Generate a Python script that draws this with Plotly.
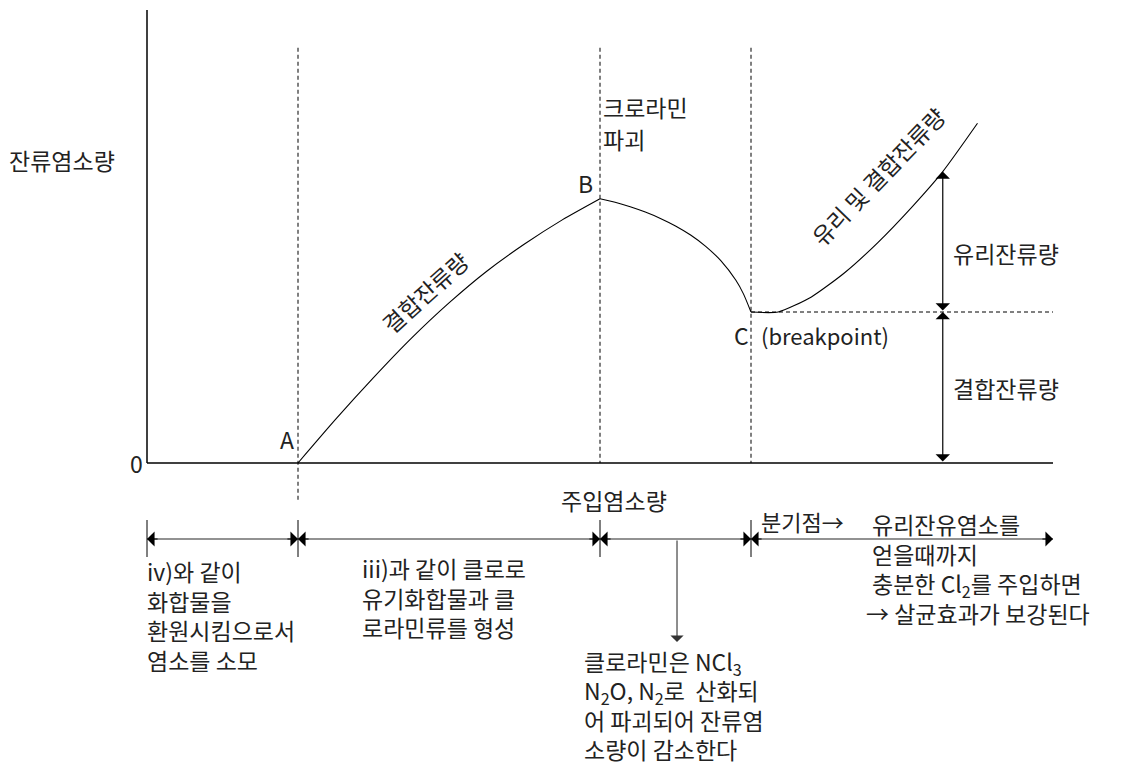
import plotly.graph_objects as go

# 주입염소량(x) vs 잔류염소량(y); one unit = one stage width on the drawing
ab_x = [1.0, 1.25, 1.5, 1.75, 2.0, 2.25, 2.5, 2.75, 3.0]
ab_y = [0.0, 0.29, 0.565, 0.825, 1.06, 1.27, 1.45, 1.61, 1.75]
bc_x = [3.0, 3.1, 3.2, 3.3, 3.4, 3.5, 3.6, 3.7, 3.8, 3.9, 3.95, 4.0]
bc_y = [1.75, 1.727, 1.697, 1.662, 1.62, 1.57, 1.51, 1.435, 1.34, 1.21, 1.12, 1.0]
cd_x = [4.0, 4.18, 4.4, 4.62, 4.84, 5.07, 5.27, 5.5]
cd_y = [1.0, 1.0, 1.10, 1.26, 1.46, 1.70, 1.93, 2.25]

stage_x = [0, 1, 3, 4, 6]          # 0, A, B, C, end of dose axis
breakpoint_y = 1.0
free_top_y = 1.93
arrow_x = 5.27
x_max, y_max, guide_top = 6.0, 3.0, 2.75

y_title = "잔류염소량"
x_title = "주입염소량"
bound_label = "결합잔류량"
total_label = "유리 및 결합잔류량"
free_label = "유리잔류량"
destroy_label = ["크로라민", "파괴"]
stage1_text = ["iv)와 같이", "화합물을", "환원시킴으로서", "염소를 소모"]
stage2_text = ["iii)과 같이 클로로", "유기화합물과 클", "로라민류를 형성"]
stage3_text = ["클로라민은 NCl<sub>3</sub>", "N<sub>2</sub>O, N<sub>2</sub>로  산화되",
               "어 파괴되어 잔류염", "소량이 감소한다"]
stage4_text = ["유리잔유염소를", "얻을때까지", "충분한 Cl<sub>2</sub>를 주입하면"]
stage4_last = "→ 살균효과가 보강된다"
bp_text = "분기점→"

# pixel helpers (drawing laid out at 151 px per unit, origin at 147,463)
S = 151.0
def X(p): return (p - 147) / S
def Y(p): return (463 - p) / S

FONT = "Noto Sans CJK KR"
INK = "#222222"
PAGE = 8  # default body margin of the html page

fig = go.Figure()

line = dict(color="black", width=1.1, shape="spline", smoothing=0.6)
for xs, ys in [(ab_x, ab_y), (bc_x, bc_y), (cd_x, cd_y)]:
    fig.add_trace(go.Scatter(x=xs, y=ys, mode="lines", line=line, hoverinfo="skip"))

# axes
fig.add_trace(go.Scatter(x=[0, 0, None, 0, x_max], y=[y_max, 0, None, 0, 0], mode="lines",
                         line=dict(color="black", width=1.5), hoverinfo="skip"))

# dashed guides
dash = dict(color="black", width=1, dash="4px,3px")
fig.add_trace(go.Scatter(
    x=[stage_x[1], stage_x[1], None, stage_x[2], stage_x[2], None, stage_x[3], stage_x[3], None, stage_x[3], x_max],
    y=[guide_top, Y(502), None, guide_top, 0, None, guide_top, 0, None, breakpoint_y, breakpoint_y],
    mode="lines", line=dash, hoverinfo="skip"))

# bottom stage bar
bar_y = Y(539)
fig.add_trace(go.Scatter(x=[stage_x[0], stage_x[-1]], y=[bar_y, bar_y], mode="lines",
                         line=dict(color="#6e6e6e", width=1.5), hoverinfo="skip"))
tx, ty = [], []
for s in stage_x[:-1]:
    tx += [s, s, None]
    ty += [Y(520), Y(557), None]
fig.add_trace(go.Scatter(x=tx, y=ty, mode="lines", line=dict(color="black", width=1), hoverinfo="skip"))

ann = []
def head(x, y, tx, ty):
    ann.append(dict(x=x, y=y, ax=tx, ay=ty, xref="x", yref="y", axref="x", ayref="y",
                    text="", showarrow=True, arrowhead=1, arrowsize=2.1, arrowwidth=1.2,
                    arrowcolor="black", standoff=0, startstandoff=0))

for a, b in zip(stage_x[:-1], stage_x[1:]):
    head(a, bar_y, a + 0.08, bar_y)
    head(b, bar_y, b - 0.08, bar_y)

# arrow down to stage 3 note
mid = (stage_x[2] + stage_x[3]) / 2 + 0.01
ann.append(dict(x=mid, y=Y(642), ax=mid, ay=bar_y, xref="x", yref="y", axref="x", ayref="y",
                text="", showarrow=True, arrowhead=1, arrowsize=2.0, arrowwidth=1.1,
                arrowcolor="#333", standoff=0))

# free / combined residual arrows
for y0, y1 in [(breakpoint_y, free_top_y), (0, breakpoint_y)]:
    ann.append(dict(x=arrow_x, y=y1, ax=arrow_x, ay=y0, xref="x", yref="y", axref="x", ayref="y",
                    text="", showarrow=True, arrowhead=1, startarrowhead=1, arrowside="end+start",
                    arrowsize=2.0, startarrowsize=2.0, arrowwidth=1.2, arrowcolor="black",
                    standoff=0, startstandoff=0))

def label(text, xp, yp, xanchor="left", size=23, angle=0):
    ann.append(dict(x=X(xp), y=Y(yp), xref="x", yref="y", text=text, showarrow=False,
                    xanchor=xanchor, yanchor="middle", textangle=angle, borderpad=0,
                    font=dict(family=FONT, size=size, color=INK)))

label(y_title, 8, 160)
label("0", 136, 463, "center")
label("A", 287, 439, "center")
label("B", 585, 183, "center")
label("C", 741, 335, "center")
label("(breakpoint)", 760, 335, size=22)
label(destroy_label[0], 602, 107)
label(destroy_label[1], 602, 139)
label(bound_label, 425, 292, "center", angle=-42)
label(total_label, 878, 176, "center", angle=-46)
label(free_label, 952, 253)
label(bound_label, 952, 388)
label(x_title, 614, 500, "center")
label(bp_text, 760, 521, size=22)

for i, t in enumerate(stage1_text):
    label(t, 146, 571 + 29.5 * i)
for i, t in enumerate(stage2_text):
    label(t, 361, 568 + 29.5 * i)
for i, t in enumerate(stage3_text):
    label(t, 583, 662 + 29 * i)
for i, t in enumerate(stage4_text):
    label(t, 871, 524 + 30 * i)
label(stage4_last, 865, 613)

fig.update_layout(
    width=1145 - PAGE, height=768 - PAGE, margin=dict(l=0, r=0, t=0, b=0),
    paper_bgcolor="white", plot_bgcolor="white", showlegend=False,
    font=dict(family=FONT, color=INK),
    xaxis=dict(range=[X(PAGE), X(1145)], visible=False, fixedrange=True),
    yaxis=dict(range=[Y(768), Y(PAGE)], visible=False, fixedrange=True),
    annotations=ann,
)

fig.write_html("out.html")
